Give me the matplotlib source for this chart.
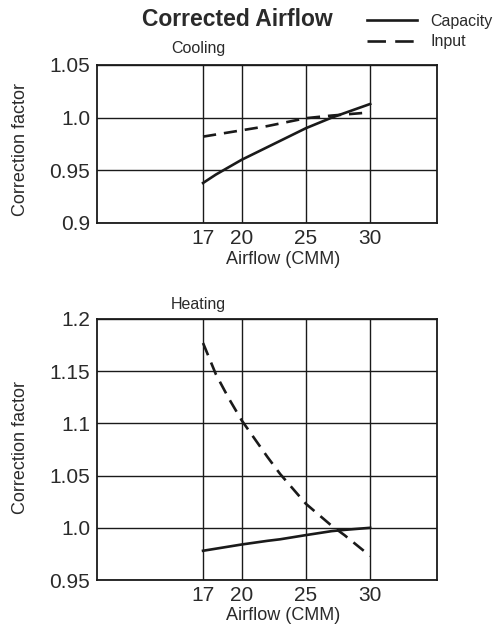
import matplotlib
matplotlib.use("Agg")
import matplotlib.pyplot as plt
from matplotlib.lines import Line2D

plt.rcParams['font.family'] = ['Liberation Sans', 'DejaVu Sans']

# Data
xticks = [17, 20, 25, 30]
cool_x = [17, 18, 20, 22, 25, 27, 30]
cool_capacity = [0.938, 0.946, 0.960, 0.972, 0.990, 1.000, 1.013]
cool_input = [0.982, 0.984, 0.988, 0.992, 0.9995, 1.002, 1.005]

heat_x = [17, 18, 19, 20, 22, 23, 25, 27, 28, 29, 30]
heat_capacity = [0.978, 0.980, 0.982, 0.984, 0.9875, 0.989, 0.993, 0.9968, 0.998, 0.999, 1.000]
heat_input = [1.177, 1.147, 1.124, 1.103, 1.068, 1.0515, 1.023, 1.002, 0.993, 0.983, 0.973]

cool_yticks = [0.9, 0.95, 1.0, 1.05]
cool_ylabels = ['0.9', '0.95', '1.0', '1.05']
heat_yticks = [0.95, 1.0, 1.05, 1.1, 1.15, 1.2]
heat_ylabels = ['0.95', '1.0', '1.05', '1.1', '1.15', '1.2']

W, H = 502, 628
fig = plt.figure(figsize=(W / 100, H / 100), dpi=100)
fig.patch.set_facecolor('white')

tc = '#2a2a2a'
lc = '#1a1a1a'
dash = (0, (5, 3))

def setup(ax, yticks, ylabels, ylim, top, bottom, ylab_center, xlab_center):
    h = bottom - top
    ax.set_xlim(8.75, 35.2)
    ax.set_ylim(*ylim)
    ax.set_xticks(xticks)
    ax.set_xticklabels([str(t) for t in xticks], fontsize=15, color=tc)
    ax.set_yticks(yticks)
    ax.set_yticklabels(ylabels, fontsize=15, color=tc)
    ax.tick_params(length=0, pad=5)
    ax.tick_params(axis='x', pad=4)
    ax.grid(True, color=lc, linewidth=1.0)
    for s in ax.spines.values():
        s.set_linewidth(1.3)
        s.set_color(lc)
    ax.set_xlabel('Airflow (CMM)', fontsize=13, color=tc)
    ax.xaxis.set_label_coords((283 - 97) / 340, (bottom - xlab_center) / h)
    ax.xaxis.label.set_verticalalignment('center')
    ax.set_ylabel('Correction factor', fontsize=13, color=tc)
    ax.yaxis.set_label_coords((20 - 97) / 340, (bottom - ylab_center) / h)
    ax.yaxis.label.set_verticalalignment('center')

ax1 = fig.add_axes([97 / W, 1 - 223 / H, 340 / W, 158 / H])
setup(ax1, cool_yticks, cool_ylabels, (0.9, 1.05), 65, 223, 150, 260)
ax1.plot(cool_x, cool_capacity, color=lc, linewidth=1.9, linestyle='-')
ax1.plot(cool_x, cool_input, color=lc, linewidth=1.9, linestyle=dash)

ax2 = fig.add_axes([97 / W, 1 - 580 / H, 340 / W, 261 / H])
setup(ax2, heat_yticks, heat_ylabels, (0.95, 1.2), 319, 580, 447, 615)
ax2.plot(heat_x, heat_capacity, color=lc, linewidth=1.9, linestyle='-')
ax2.plot(heat_x, heat_input, color=lc, linewidth=1.9, linestyle=dash)

fig.text(237 / W, 1 - 20 / H, 'Corrected Airflow', fontsize=16.5, fontweight='bold',
         ha='center', va='center', color=tc)
fig.text(198 / W, 1 - 48 / H, 'Cooling', fontsize=11.5, ha='center', va='center', color=tc)
fig.text(198 / W, 1 - 305 / H, 'Heating', fontsize=11.5, ha='center', va='center', color=tc)

handles = [Line2D([], [], color=lc, linewidth=1.9, linestyle='-'),
           Line2D([], [], color=lc, linewidth=1.9, linestyle=(0, (7, 3.5)))]
leg = fig.legend(handles, ['Capacity', 'Input'], loc='upper left',
                 bbox_to_anchor=(367 / W, 1 - 14 / H), frameon=False,
                 fontsize=11.5, handlelength=3.1, handletextpad=0.85,
                 labelspacing=0.33, borderpad=0, borderaxespad=0)
for t in leg.get_texts():
    t.set_color(tc)

fig.savefig('out.png', dpi=100, facecolor='white')
